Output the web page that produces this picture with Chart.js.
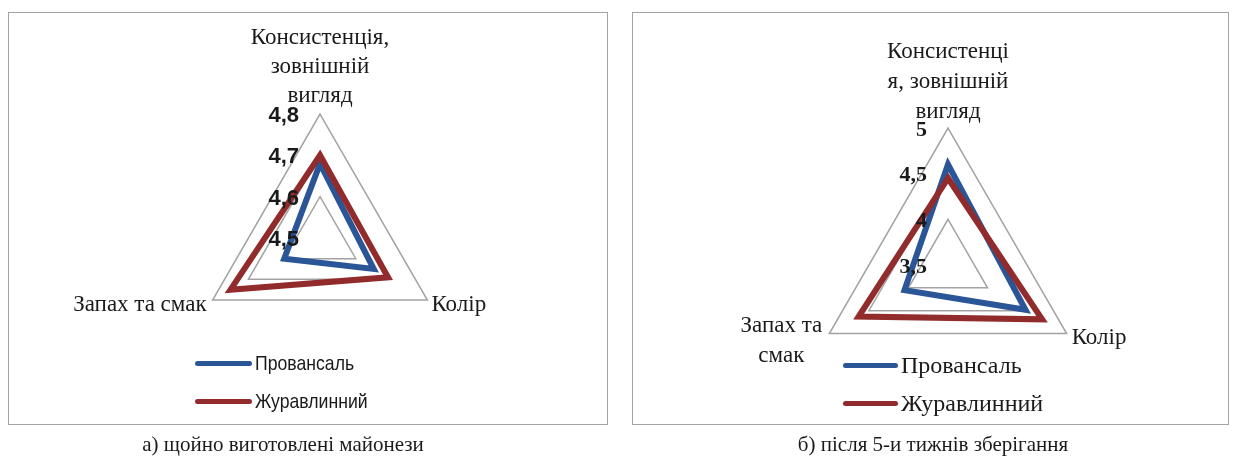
<!DOCTYPE html>
<html>
<head>
<meta charset="utf-8">
<script src="https://cdn.jsdelivr.net/npm/chart.js@4.4.1/dist/chart.umd.min.js"></script>
<style>
  body { margin: 0; background: #fff; width: 1233px; height: 459px; position: relative; overflow: hidden; }
  .box { position: absolute; border: 1.5px solid #a3a3a3; box-sizing: border-box; }
  canvas { position: absolute; left: 0; top: 0; }
  .item { position: absolute; white-space: nowrap; display: flex; align-items: center; color: #1a1a1a; }
  .swatch { display: inline-block; height: 5px; border-radius: 3px; margin-right: 3px; }
  .name { display: inline-block; transform-origin: left center; }
  .caption { position: absolute; top: 432px; font: 21px "Liberation Serif", serif; white-space: nowrap; transform: translateX(-50%); color: #1a1a1a; }
</style>
</head>
<body>
<div class="box" style="left:8px;top:12px;width:600px;height:413px"></div>
<div class="box" style="left:632px;top:12px;width:597px;height:413px"></div>
<canvas id="fresh" width="1233" height="459"></canvas>
<canvas id="stored" width="1233" height="459"></canvas>
<div class="caption" style="left:283px">а) щойно виготовлені майонези</div>
<div class="caption" style="left:933px">б) після 5-и тижнів зберігання</div>
<script>
const seriesNames = ["Провансаль", "Журавлинний"];
const seriesColors = ["#2a5597", "#922b2b"];

const freshLabels = [["Консистенція,", "зовнішній", "вигляд"], "Колір", "Запах та смак"];
const freshProvansal = [4.68, 4.65, 4.60];
const freshCranberry = [4.70, 4.69, 4.75];
const freshTicks = ["4,5", "4,6", "4,7", "4,8"];

const storedLabels = [["Консистенці", "я, зовнішній", "вигляд"], "Колір", ["Запах та", "смак"]];
const storedProvansal = [4.60, 4.48, 4.05];
const storedCranberry = [4.45, 4.69, 4.63];
const storedTicks = ["3,5", "4", "4,5", "5"];

// tick labels and category names, drawn beside the radar like Excel does
const axisText = {
  id: "axisText",
  afterDraw(chart, args, opts) {
    const r = chart.scales.r;
    const ctx = chart.ctx;
    ctx.save();
    ctx.fillStyle = "#1a1a1a";
    ctx.font = opts.tickFont;
    ctx.textAlign = "right";
    ctx.textBaseline = "middle";
    r.ticks.forEach((t, i) => {
      const p = r.getPointPositionForValue(0, t.value);
      ctx.fillText(opts.tickLabels[i], p.x - 21, p.y + 2);
    });

    ctx.font = opts.labelFont;
    chart.data.labels.forEach((label, i) => {
      const lines = Array.isArray(label) ? label : [label];
      const pos = opts.placement[i];
      const c = r.getPointPosition(i, r.drawingArea);
      ctx.textAlign = pos.align;
      let y = c.y + pos.dy;
      if (pos.anchor === "bottom") y -= (lines.length - 1) * opts.lineHeight;
      lines.forEach((line, k) => {
        ctx.fillText(line, c.x + pos.dx, y + k * opts.lineHeight);
      });
    });
    ctx.restore();
  }
};

function makeRadar(id, labels, a, b, min, max, step, area, text) {
  return new Chart(document.getElementById(id), {
    type: "radar",
    data: {
      labels,
      datasets: [
        { label: seriesNames[0], data: a, borderColor: seriesColors[0], order: 2 },
        { label: seriesNames[1], data: b, borderColor: seriesColors[1], order: 1 }
      ]
    },
    options: {
      responsive: false,
      animation: false,
      events: [],
      layout: { padding: area },
      elements: {
        line: { borderWidth: 6, fill: false, tension: 0, borderJoinStyle: "miter" },
        point: { radius: 0 }
      },
      scales: {
        r: {
          min, max,
          ticks: { stepSize: step, display: false },
          grid: { color: "#a3a3a3", lineWidth: 1.5 },
          angleLines: { display: false },
          pointLabels: { display: false }
        }
      },
      plugins: {
        legend: { display: false },
        tooltip: { enabled: false },
        axisText: text
      }
    },
    plugins: [axisText]
  });
}

makeRadar("fresh", freshLabels, freshProvansal, freshCranberry, 4.5, 4.8, 0.1,
  { left: 196, top: 114, right: 789, bottom: 97 },
  {
    tickLabels: freshTicks,
    tickFont: "bold 22px 'Liberation Sans', Arial, sans-serif",
    labelFont: "23px 'Liberation Serif', serif",
    lineHeight: 29,
    placement: [
      { dx: 0, dy: -18, align: "center", anchor: "bottom" },
      { dx: 4, dy: 5, align: "left" },
      { dx: -6, dy: 5, align: "right" }
    ]
  });

makeRadar("stored", storedLabels, storedProvansal, storedCranberry, 3.5, 5, 0.5,
  { left: 811, top: 128, right: 148, bottom: 57 },
  {
    tickLabels: storedTicks,
    tickFont: "bold 22px 'Liberation Serif', serif",
    labelFont: "23px 'Liberation Serif', serif",
    lineHeight: 30,
    placement: [
      { dx: 0, dy: -16, align: "center", anchor: "bottom" },
      { dx: 5, dy: 4, align: "left" },
      { dx: -48, dy: -8, align: "center", anchor: "top" }
    ]
  });

// legends
const legends = [
  { x: 195, y: 363, w: 57, font: "21px 'Liberation Sans', sans-serif", squeeze: 0.84 },
  { x: 843, y: 365, w: 55, font: "24px 'Liberation Serif', serif", squeeze: 1 }
];
legends.forEach(lg => {
  seriesNames.forEach((name, i) => {
    const el = document.createElement("div");
    el.className = "item";
    el.style.left = lg.x + "px";
    el.style.top = (lg.y - 14 + i * 38) + "px";
    el.style.height = "28px";
    el.style.font = lg.font;
    const sw = document.createElement("span");
    sw.className = "swatch";
    sw.style.width = lg.w + "px";
    sw.style.background = seriesColors[i];
    const txt = document.createElement("span");
    txt.className = "name";
    txt.style.transform = "scaleX(" + lg.squeeze + ")";
    txt.textContent = name;
    el.appendChild(sw);
    el.appendChild(txt);
    document.body.appendChild(el);
  });
});
</script>
</body>
</html>
